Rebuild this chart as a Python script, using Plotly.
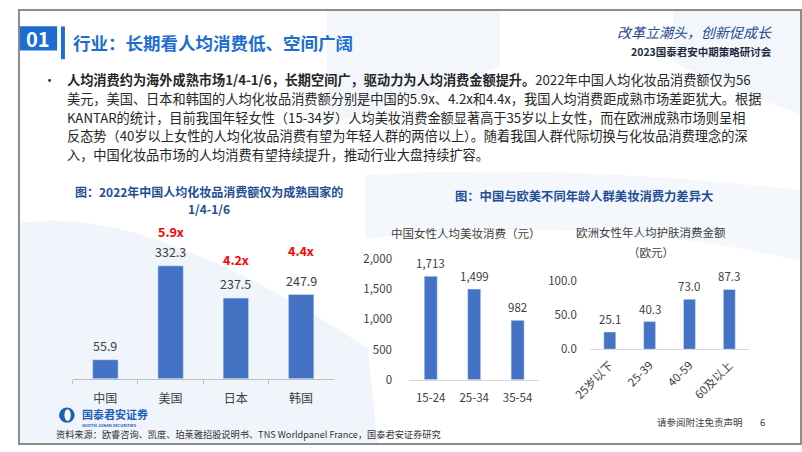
import plotly.graph_objects as go

W, H = 802, 452

# ---------------- data ----------------
countries = ["中国", "美国", "日本", "韩国"]
spend_2022 = [55.9, 332.3, 237.5, 247.9]
multiples = ["", "5.9x", "4.2x", "4.4x"]

cn_ages = ["15-24", "25-34", "35-54"]
cn_spend = [1713, 1499, 982]
cn_ticks = [0, 500, 1000, 1500, 2000]

eu_ages = ["25岁以下", "25-39", "40-59", "60及以上"]
eu_spend = [25.1, 40.3, 73.0, 87.3]
eu_ticks = [0, 50, 100]

title_main = "行业：长期看人均消费低、空间广阔"
slogan = "改革立潮头，创新促成长"
event = "2023国泰君安中期策略研讨会"
bullet_lines = [
    "<b>人均消费约为海外成熟市场1/4-1/6，长期空间广，驱动力为人均消费金额提升。</b>2022年中国人均化妆品消费额仅为56",
    "美元，美国、日本和韩国的人均化妆品消费额分别是中国的5.9x、4.2x和4.4x，我国人均消费距成熟市场差距犹大。根据",
    "KANTAR的统计，目前我国年轻女性（15-34岁）人均美妆消费金额显著高于35岁以上女性，而在欧洲成熟市场则呈相",
    "反态势（40岁以上女性的人均化妆品消费有望为年轻人群的两倍以上）。随着我国人群代际切换与化妆品消费理念的深",
    "入，中国化妆品市场的人均消费有望持续提升，推动行业大盘持续扩容。",
]
left_title = ["图：2022年中国人均化妆品消费额仅为成熟国家的", "1/4-1/6"]
right_title = "图：中国与欧美不同年龄人群美妆消费力差异大"
cn_sub = "中国女性人均美妆消费（元）"
eu_sub = "欧洲女性年人均护肤消费金额"
eu_unit = "（欧元）"
source = "资料来源：欧睿咨询、凯度、珀莱雅招股说明书、TNS Worldpanel France，国泰君安证券研究"
disclaimer = "请参阅附注免责声明"
page_no = "6"

# ---------------- style ----------------
FONT = "Noto Sans CJK SC, Microsoft YaHei, sans-serif"
BAR = "#4472C4"
HEAD_BLUE = "#1D6DD1"
TITLE_BLUE = "#1F4E96"
TXT = "#262626"
LABEL = "#404040"
LIGHT = "#EFF5FB"
multiple_shift = [0, 34, 39, 44]


def px(x):
    return x / W


def py(y):
    return 1 - y / H


fig = go.Figure()
fig.add_trace(go.Bar(x=countries, y=spend_2022, marker_color=BAR, width=0.39,
                     xaxis="x", yaxis="y", hoverinfo="skip"))
fig.add_trace(go.Bar(x=cn_ages, y=cn_spend, marker_color=BAR, width=0.3,
                     xaxis="x2", yaxis="y2", hoverinfo="skip"))
fig.add_trace(go.Bar(x=eu_ages, y=eu_spend, marker_color=BAR, width=0.3,
                     xaxis="x3", yaxis="y3", hoverinfo="skip"))

ann = []


def text(x, y, s, size, color=TXT, anchor="center", bold=False, **kw):
    ann.append(dict(x=px(x), y=py(y), xref="paper", yref="paper", text=("<b>%s</b>" % s) if bold else s,
                    showarrow=False, xanchor=anchor, yanchor="middle",
                    font=dict(family=FONT, size=size, color=color), **kw))


# header
text(20, 31, "01", 20, "white", bold=True)
text(54, 35, title_main, 17.5, HEAD_BLUE, anchor="left", bold=True)
ann.append(dict(x=px(773), y=py(24), xref="paper", yref="paper", text=slogan, showarrow=False,
                xanchor="right", yanchor="middle",
                font=dict(family=FONT, size=14, color="#1B4C8C", style="italic")))
text(773, 44, event, 10.5, "#1E2A44", anchor="right", bold=True)

# bullet text
text(32, 73, "•", 13, TXT)
for i, line in enumerate(bullet_lines):
    text(48, 73 + i * 19.5, line, 13.2, TXT, anchor="left")

# chart titles
text(195, 189, left_title[0], 12, TITLE_BLUE, bold=True)
text(195, 206.5, left_title[1], 12, TITLE_BLUE, bold=True)
text(579, 194, right_title, 12.3, TITLE_BLUE, bold=True)
text(458, 232, cn_sub, 11.5, LABEL)
text(648, 231, eu_sub, 11.5, LABEL)
text(648, 252, eu_unit, 11.5, LABEL)

# value labels
for c, v, m, s in zip(countries, spend_2022, multiples, multiple_shift):
    ann.append(dict(x=c, y=v, xref="x", yref="y", text="%.1f" % v, showarrow=False,
                    yanchor="middle", yshift=14.5, font=dict(family=FONT, size=12.5, color=LABEL)))
    if m:
        ann.append(dict(x=c, y=v, xref="x", yref="y", text="<b>%s</b>" % m, showarrow=False,
                        yanchor="middle", yshift=s, font=dict(family=FONT, size=12.5, color="#FF0000")))
for c, v in zip(cn_ages, cn_spend):
    ann.append(dict(x=c, y=v, xref="x2", yref="y2", text=f"{v:,}", showarrow=False,
                    yanchor="middle", yshift=13, font=dict(family=FONT, size=11.5, color=LABEL)))
for c, v in zip(eu_ages, eu_spend):
    ann.append(dict(x=c, y=v, xref="x3", yref="y3", text="%.1f" % v, showarrow=False,
                    yanchor="middle", yshift=13, font=dict(family=FONT, size=11.5, color=LABEL)))

# footer
text(63, 419.5, "国泰君安证券", 11, "#1E5FB8", anchor="left", bold=True)
text(63, 431, "GUOTAI JUNAN SECURITIES", 4, "#1E5FB8", anchor="left", bold=True)
text(37, 441, source, 9.2, "#333333", anchor="left")
text(652, 428, disclaimer, 9.5, "#404040", anchor="left")
text(762, 428, page_no, 9.5, "#404040")


def path_px(d_points, close=True):
    parts = []
    for cmd, pts in d_points:
        coords = " ".join("%.5f,%.5f" % (px(a), py(b)) for a, b in pts)
        parts.append(cmd + " " + coords)
    return " ".join(parts) + (" Z" if close else "")


shapes = [
    # faint background swooshes
    dict(type="path", xref="paper", yref="paper", layer="below", line=dict(width=0), fillcolor=LIGHT,
         path=path_px([("M", [(0, 222)]), ("Q", [(130, 200), (358, 352)]), ("L", [(368, 452)]), ("L", [(0, 452)])])),
    dict(type="path", xref="paper", yref="paper", layer="below", line=dict(width=0), fillcolor="#F3F7FC",
         path=path_px([("M", [(316, 0)]), ("L", [(493, 0)]), ("L", [(493, 60)]), ("Q", [(420, 90), (316, 120)])])),
    dict(type="path", xref="paper", yref="paper", layer="below", line=dict(width=0), fillcolor="#F3F7FC",
         path=path_px([("M", [(670, 0)]), ("L", [(802, 0)]), ("L", [(802, 110)]), ("Q", [(700, 70), (670, 55)])])),
    dict(type="path", xref="paper", yref="paper", layer="below", line=dict(width=0), fillcolor="#F4F8FC",
         path=path_px([("M", [(355, 172)]), ("Q", [(560, 160), (802, 188)]), ("L", [(802, 262)]),
                        ("Q", [(600, 212), (355, 238)])])),
    # header marks
    dict(type="rect", xref="paper", yref="paper", x0=px(0), x1=px(40), y0=py(43), y1=py(18),
         fillcolor=HEAD_BLUE, line=dict(width=0)),
    dict(type="rect", xref="paper", yref="paper", x0=px(44), x1=px(48), y0=py(52), y1=py(18),
         fillcolor=HEAD_BLUE, line=dict(width=0)),
    # logo
    dict(type="circle", xref="paper", yref="paper", x0=px(42), x1=px(58), y0=py(429), y1=py(413),
         fillcolor="#1E5FB8", line=dict(width=0)),
    dict(type="circle", xref="paper", yref="paper", x0=px(47.5), x1=px(54), y0=py(427), y1=py(415),
         fillcolor="white", line=dict(width=0)),
    # slide border
    dict(type="rect", xref="paper", yref="paper", x0=px(1), x1=px(801), y0=py(451), y1=py(1),
         line=dict(color="#8C8C8C", width=2), fillcolor="rgba(0,0,0,0)"),
]

axis_common = dict(showgrid=False, zeroline=False, fixedrange=True)
y_left_max = 400
fig.update_layout(
    width=W, height=H, autosize=False,
    margin=dict(l=0, r=0, t=0, b=0),
    paper_bgcolor="white", plot_bgcolor="rgba(0,0,0,0)",
    showlegend=False,
    font=dict(family=FONT),
    xaxis=dict(domain=[px(56), px(323)], anchor="y", range=[-0.5, 3.5], showline=True,
               linecolor="#BFBFBF", linewidth=1, ticks="outside", tickson="boundaries",
               ticklen=4, tickcolor="#BFBFBF", ticklabelstandoff=9,
               tickfont=dict(family=FONT, size=12, color=LABEL), **axis_common),
    yaxis=dict(domain=[py(383.3), py(383.3 - 0.3521 * y_left_max)], anchor="x",
               range=[0, y_left_max], visible=False, **axis_common),
    xaxis2=dict(domain=[px(400), px(533.3)], anchor="y2", range=[-0.5, 2.5], showline=True,
                linecolor="#D9D9D9", linewidth=1, ticks="", ticklabelstandoff=8,
                tickfont=dict(family=FONT, size=11.5, color=LABEL), **axis_common),
    yaxis2=dict(domain=[py(384.3), py(259)], anchor="x2", range=[0, 2000], tickvals=cn_ticks,
                tickformat=",", showline=False, ticks="", ticklabelstandoff=16,
                tickfont=dict(family=FONT, size=11.5, color=LABEL), **axis_common),
    xaxis3=dict(domain=[px(585), px(748)], anchor="y3", range=[-0.5, 3.5], showline=True,
                linecolor="#D9D9D9", linewidth=1, ticks="", tickangle=-45, ticklabelstandoff=4,
                tickfont=dict(family=FONT, size=11.5, color=LABEL), **axis_common),
    yaxis3=dict(domain=[py(352.7), py(281.7)], anchor="x3", range=[0, 100], tickvals=eu_ticks,
                tickformat=".1f", showline=False, ticks="", ticklabelstandoff=12,
                tickfont=dict(family=FONT, size=11.5, color=LABEL), **axis_common),
    annotations=ann,
    shapes=shapes,
)

fig.write_html("out.html", config={"displayModeBar": False, "staticPlot": True})
